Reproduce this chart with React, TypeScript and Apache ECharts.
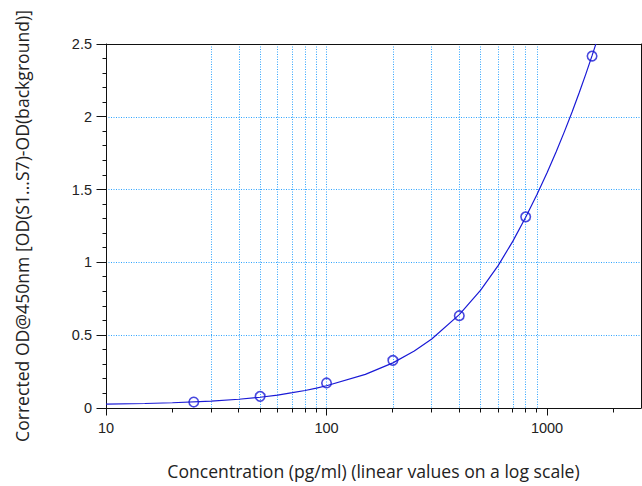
import React, { useEffect, useRef } from "react";
import * as echarts from "echarts";

// Measured standards (concentration pg/ml, corrected OD)
const standardConc = [25, 50, 100, 200, 400, 800, 1600];
const standardOd = [0.041, 0.08, 0.172, 0.327, 0.634, 1.313, 2.417];

// Fitted curve
const fitConc = [10, 15, 20, 30, 40, 50, 60, 70, 80, 90, 100, 150, 200, 250, 300, 400, 500, 600, 700, 800, 900, 1000, 1100, 1200, 1300, 1400, 1500, 1600, 1650, 1665];
const fitOd = [0.027, 0.031, 0.036, 0.047, 0.06, 0.074, 0.089, 0.105, 0.12, 0.136, 0.153, 0.231, 0.31, 0.392, 0.474, 0.641, 0.81, 0.978, 1.146, 1.31, 1.466, 1.615, 1.76, 1.9, 2.035, 2.167, 2.295, 2.42, 2.482, 2.5];

// Axis ticks
const majorXTicks = [10, 100, 1000];
const minorXTicks = [20, 30, 40, 50, 60, 70, 80, 90, 200, 300, 400, 500, 600, 700, 800, 900, 2000];
const majorYTicks = [0, 0.5, 1, 1.5, 2, 2.5];
const minorYTicks = [0.1, 0.2, 0.3, 0.4, 0.6, 0.7, 0.8, 0.9, 1.1, 1.2, 1.3, 1.4, 1.6, 1.7, 1.8, 1.9, 2.1, 2.2, 2.3, 2.4];
const xMin = 10;
const xMax = 2667;
const yMin = 0;
const yMax = 2.5;
const yStep = 0.5;

const xTitle = "Concentration (pg/ml) (linear values on a log scale)";
const yTitle = "Corrected OD@450nm [OD(S1...S7)-OD(background)]";

const GRID_COLOR = "#2fa4ff";
const CURVE_COLOR = "#1a1ad6";
const AXIS_COLOR = "#111";
const TICK_COLOR = "#111";
const LABEL_FONT = "'Liberation Sans', Arial, sans-serif";
const TITLE_FONT = "'Open Sans', 'Noto Sans', sans-serif";

const MAJOR_LEN_X = 7;
const MINOR_LEN_X = 4;
const MAJOR_LEN_Y = 10;
const MINOR_LEN_Y = 4;

export default function App() {
  const ref = useRef<HTMLDivElement>(null);

  useEffect(() => {
    if (!ref.current) return;
    const chart = echarts.init(ref.current, null, { renderer: "svg" });
    const dotted = { color: GRID_COLOR, width: 1, type: [1, 1.5] as number[] };

    const xTickData = [
      ...majorXTicks.map((v) => [v, yMin, MAJOR_LEN_X]),
      ...minorXTicks.map((v) => [v, yMin, MINOR_LEN_X]),
    ];
    const yTickData = [
      ...majorYTicks.map((v) => [xMin, v, MAJOR_LEN_Y]),
      ...minorYTicks.map((v) => [xMin, v, MINOR_LEN_Y]),
    ];
    const crisp = (v: number) => Math.round(v - 0.5) + 0.5;

    chart.setOption({
      animation: false,
      backgroundColor: "#ffffff",
      grid: { left: 106, right: 1, top: 44, bottom: 78 },
      xAxis: [
        {
          type: "log",
          logBase: 10,
          min: xMin,
          max: xMax,
          position: "bottom",
          name: xTitle,
          nameLocation: "middle",
          nameGap: 54,
          nameTextStyle: { fontSize: 17.6, fontFamily: TITLE_FONT, color: "#222" },
          axisLine: { show: true, lineStyle: { color: AXIS_COLOR, width: 1 } },
          axisTick: { show: false, customValues: majorXTicks },
          axisLabel: {
            show: true,
            customValues: majorXTicks,
            margin: 12,
            fontSize: 14.5,
            fontFamily: LABEL_FONT,
            color: "#222",
            formatter: (v: number) => String(v),
          },
          splitLine: { show: true, showMinLine: false, showMaxLine: false, lineStyle: dotted },
        },
        {
          type: "log",
          logBase: 10,
          min: xMin,
          max: xMax,
          position: "bottom",
          axisLine: { show: false },
          axisTick: { show: false, customValues: minorXTicks },
          axisLabel: { show: false, customValues: minorXTicks },
          splitLine: { show: true, showMinLine: false, showMaxLine: false, lineStyle: dotted },
        },
        {
          type: "log",
          logBase: 10,
          min: xMin,
          max: xMax,
          position: "top",
          axisLine: { show: true, lineStyle: { color: AXIS_COLOR, width: 1 } },
          axisTick: { show: false },
          axisLabel: { show: false },
          splitLine: { show: false },
        },
      ],
      yAxis: [
        {
          type: "value",
          min: yMin,
          max: yMax,
          interval: yStep,
          position: "left",
          name: yTitle,
          nameLocation: "middle",
          nameGap: 75,
          nameRotate: 90,
          nameTextStyle: { fontSize: 17.6, fontFamily: TITLE_FONT, color: "#222" },
          axisLine: { show: true, lineStyle: { color: AXIS_COLOR, width: 1 } },
          axisTick: { show: false },
          minorTick: { show: false },
          axisLabel: { margin: 14, fontSize: 14.5, fontFamily: LABEL_FONT, color: "#222" },
          splitLine: { show: true, showMinLine: false, showMaxLine: false, lineStyle: dotted },
        },
        {
          type: "value",
          min: yMin,
          max: yMax,
          interval: yStep,
          position: "right",
          axisLine: { show: true, lineStyle: { color: AXIS_COLOR, width: 1 } },
          axisTick: { show: false },
          axisLabel: { show: false },
          splitLine: { show: false },
        },
      ],
      series: [
        {
          type: "line",
          name: "fit",
          xAxisIndex: 0,
          yAxisIndex: 0,
          data: fitConc.map((c, i) => [c, fitOd[i]]),
          showSymbol: false,
          smooth: false,
          clip: true,
          lineStyle: { color: CURVE_COLOR, width: 1.2 },
          z: 3,
        },
        {
          type: "scatter",
          name: "standards",
          xAxisIndex: 0,
          yAxisIndex: 0,
          data: standardConc.map((c, i) => [c, standardOd[i]]),
          symbol: "circle",
          symbolSize: 9.5,
          itemStyle: { color: "rgba(255,255,255,0)", borderColor: CURVE_COLOR, borderWidth: 1.6 },
          z: 4,
        },
        {
          type: "custom",
          name: "xTicks",
          xAxisIndex: 0,
          yAxisIndex: 0,
          clip: false,
          silent: true,
          z: 5,
          data: xTickData,
          renderItem: (params: any, api: any) => {
            const p = api.coord([api.value(0), api.value(1)]);
            const len = api.value(2);
            const x = crisp(p[0]);
            const y = crisp(p[1]);
            return {
              type: "line",
              shape: { x1: x, y1: y, x2: x, y2: y + len },
              style: { stroke: TICK_COLOR, lineWidth: 1 },
            };
          },
        },
        {
          type: "custom",
          name: "yTicks",
          xAxisIndex: 0,
          yAxisIndex: 0,
          clip: false,
          silent: true,
          z: 5,
          data: yTickData,
          renderItem: (params: any, api: any) => {
            const p = api.coord([api.value(0), api.value(1)]);
            const len = api.value(2);
            const x = crisp(p[0]);
            const y = crisp(p[1]);
            return {
              type: "line",
              shape: { x1: x - len, y1: y, x2: x, y2: y },
              style: { stroke: TICK_COLOR, lineWidth: 1 },
            };
          },
        },
      ],
    });

    return () => chart.dispose();
  }, []);

  return (
    <div
      ref={ref}
      style={{ position: "fixed", left: 0, top: 0, width: 642, height: 486, background: "#fff" }}
    />
  );
}
